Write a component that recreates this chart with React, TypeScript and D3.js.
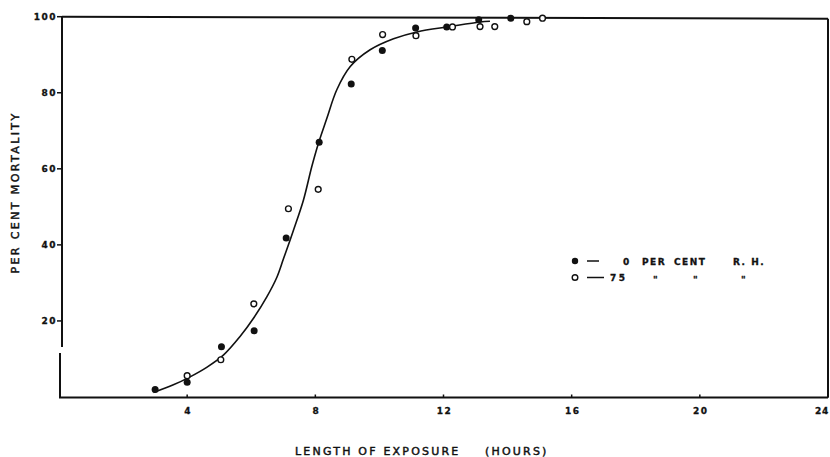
import React from "react";
import * as d3 from "d3";

const xTicks = [4, 8, 12, 16, 20, 24];
const yTicks = [20, 40, 60, 80, 100];

const dryX = [3, 4, 5.07, 6.09, 7.09, 8.12, 9.12, 10.09, 11.13, 12.1, 13.1, 14.1];
const dryY = [2.0, 3.9, 13.2, 17.4, 41.8, 67.0, 82.3, 91.1, 97.0, 97.3, 99.2, 99.6];

const humidX = [4, 5.05, 6.08, 7.16, 8.09, 9.14, 10.1, 11.14, 12.28, 13.14, 13.6, 14.6, 15.09];
const humidY = [5.6, 9.8, 24.5, 49.5, 54.6, 88.8, 95.3, 95.0, 97.3, 97.4, 97.4, 98.7, 99.6];

const curveX = [2.95, 3.57, 4.09, 4.61, 5.13, 5.65, 6.07, 6.49, 6.8, 7.0, 7.32, 7.63, 7.89, 8.1, 8.36, 8.67, 9.09, 9.71, 10.44, 11.17, 12.2, 13.14, 13.45];
const curveY = [1.2, 3.2, 5.3, 7.8, 11.0, 15.9, 20.7, 26.4, 31.5, 36.2, 43.9, 51.8, 60.6, 66.8, 73.3, 80.8, 86.9, 91.3, 94.2, 96.0, 97.4, 98.6, 98.8];

const xTitle = ["LENGTH OF EXPOSURE", "(HOURS)"];
const yTitle = "PER CENT MORTALITY";
const legendRows = [
  { filled: true, label: "0", rest: ["PER", "CENT", "R. H."] },
  { filled: false, label: "75", rest: ['"', '"', '"'] },
];

const W = 830;
const H = 457;

export default function App() {
  const x = d3.scaleLinear().domain([0, 24]).range([59, 828]);
  const y = d3.scaleLinear().domain([0, 100]).range([397, 16.7]);

  const pts = curveX.map((v, i) => [v, curveY[i]] as [number, number]);
  const line = d3
    .line<[number, number]>()
    .x((d) => x(d[0]))
    .y((d) => y(d[1]))
    .curve(d3.curveCatmullRom.alpha(0.5));

  const font = "'DejaVu Sans', Verdana, sans-serif";
  const bottom = y(0) + 0.5;
  const ink = "#111";

  const legendPos = [
    [642, 674, 733],
    [653, 693, 741],
  ];

  return (
    <svg
      width={W}
      height={H}
      style={{ position: "absolute", left: 0, top: 0, background: "#fff" }}
    >
      <rect x={0} y={0} width={W} height={H} fill="#fff" />
      {/* frame */}
      <g stroke={ink} fill="none" strokeWidth={2}>
        <line x1={62} y1={y(100)} x2={62} y2={347} />
        <line x1={60} y1={353} x2={60} y2={bottom} />
        <line x1={59} y1={bottom} x2={828} y2={bottom} />
        <line x1={62} y1={y(100)} x2={828} y2={y(100) + 2} />
        <line x1={828} y1={y(100) + 2} x2={828} y2={bottom} />
      </g>
      {/* y ticks */}
      {yTicks.map((t) => (
        <g key={"y" + t}>
          <line x1={57} x2={62} y1={y(t)} y2={y(t)} stroke={ink} strokeWidth={1.5} />
          <text
            x={57}
            y={y(t) + 3.5}
            textAnchor="end"
            fontFamily={font}
            fontWeight="bold"
            fontSize={9}
            letterSpacing={1.5}
            fill={ink}
            stroke={ink}
            strokeWidth={0.3}
          >
            {t}
          </text>
        </g>
      ))}
      {/* x ticks */}
      {xTicks.map((t, i) => {
        const last = i === xTicks.length - 1;
        return (
          <g key={"x" + t}>
            <line x1={x(t)} x2={x(t)} y1={bottom} y2={bottom - 3} stroke={ink} strokeWidth={1.5} />
            <text
              x={last ? 829 : x(t) + 1}
              y={bottom + 16}
              textAnchor={last ? "end" : "middle"}
              fontFamily={font}
              fontWeight="bold"
              fontSize={9}
              letterSpacing={last ? 0.8 : 1.5}
              fill={ink}
              stroke={ink}
              strokeWidth={0.3}
            >
              {t}
            </text>
          </g>
        );
      })}
      {/* axis titles */}
      <text
        x={295}
        y={455}
        fontFamily={font}
        fontSize={11}
        letterSpacing={2.2}
        fill={ink}
        stroke={ink}
        strokeWidth={0.45}
      >
        {xTitle[0]}
      </text>
      <text
        x={485}
        y={455}
        fontFamily={font}
        fontSize={11}
        letterSpacing={2.2}
        fill={ink}
        stroke={ink}
        strokeWidth={0.45}
      >
        {xTitle[1]}
      </text>
      <text
        transform={`translate(19,${(103 + 282) / 2}) rotate(-90)`}
        textAnchor="middle"
        fontFamily={font}
        fontSize={11}
        letterSpacing={2.4}
        fill={ink}
        stroke={ink}
        strokeWidth={0.45}
      >
        {yTitle}
      </text>
      {/* fitted curve */}
      <path d={line(pts) || ""} fill="none" stroke={ink} strokeWidth={1.6} />
      {/* points */}
      {dryX.map((v, i) => (
        <circle key={"d" + i} cx={x(v)} cy={y(dryY[i])} r={3.5} fill={ink} />
      ))}
      {humidX.map((v, i) => (
        <circle
          key={"h" + i}
          cx={x(v)}
          cy={y(humidY[i])}
          r={2.9}
          fill="#fff"
          stroke={ink}
          strokeWidth={1.4}
        />
      ))}
      {/* legend */}
      {legendRows.map((r, i) => {
        const cy = 261 + i * 16.5;
        return (
          <g key={"l" + i}>
            {r.filled ? (
              <circle cx={575} cy={cy} r={3.2} fill={ink} />
            ) : (
              <circle cx={575} cy={cy} r={2.8} fill="#fff" stroke={ink} strokeWidth={1.4} />
            )}
            <line x1={587} x2={r.filled ? 599 : 604} y1={cy} y2={cy} stroke={ink} strokeWidth={1.5} />
            <text
              x={r.filled ? 623 : 610}
              y={cy + 3.5}
              fontFamily={font}
              fontWeight="bold"
              fontSize={9}
              letterSpacing={2.5}
              fill={ink}
              stroke={ink}
              strokeWidth={0.3}
            >
              {r.label}
            </text>
            {r.rest.map((s, k) => (
              <text
                key={k}
                x={legendPos[i][k]}
                y={cy + (r.filled ? 3.5 : 5.5)}
                fontFamily={font}
                fontWeight="bold"
                fontSize={9}
                letterSpacing={r.filled ? 1.5 : 0}
                fill={ink}
                stroke={ink}
                strokeWidth={0.3}
              >
                {s}
              </text>
            ))}
          </g>
        );
      })}
    </svg>
  );
}
